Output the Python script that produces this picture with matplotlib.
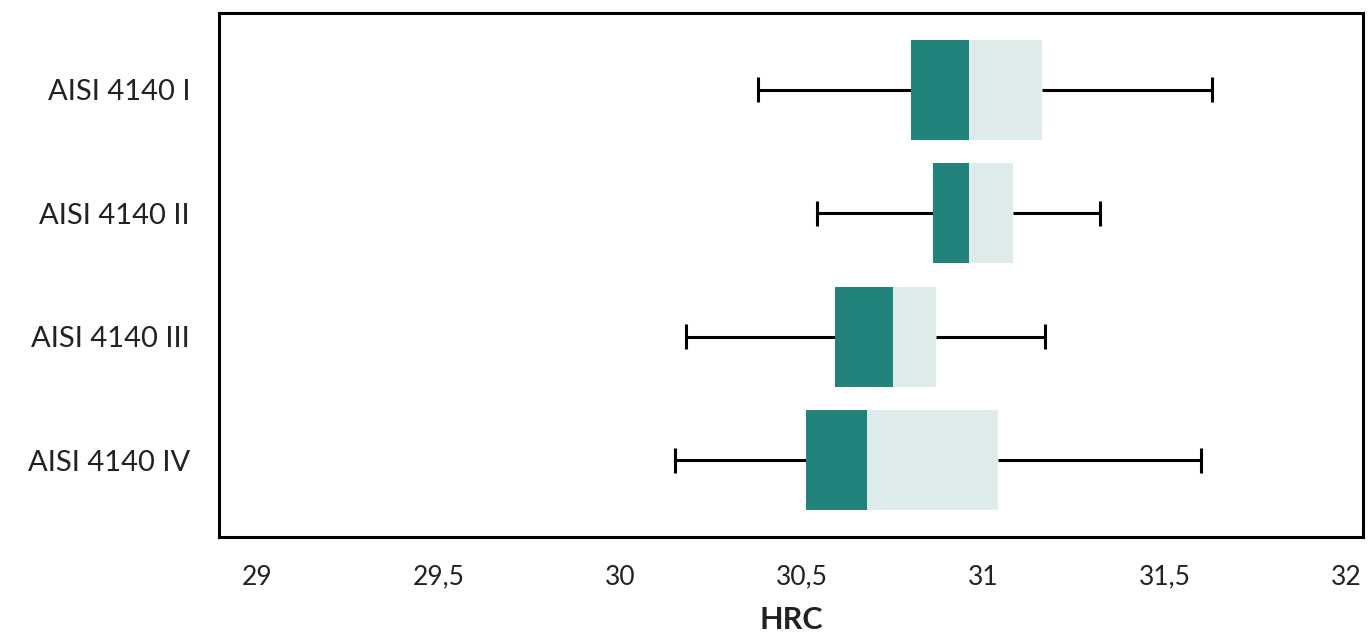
import matplotlib
matplotlib.use("Agg")
import matplotlib.pyplot as plt

# HRC hardness per steel batch
labels = ["AISI 4140 I", "AISI 4140 II", "AISI 4140 III", "AISI 4140 IV"]
mins = [30.38, 30.54, 30.18, 30.15]
q1 = [30.80, 30.86, 30.59, 30.51]
medians = [30.96, 30.96, 30.75, 30.68]
q3 = [31.16, 31.08, 30.87, 31.04]
maxs = [31.63, 31.32, 31.17, 31.60]
xticks = [29, 29.5, 30, 30.5, 31, 31.5, 32]
xticklabels = ["29", "29,5", "30", "30,5", "31", "31,5", "32"]

plt.rcParams['font.family'] = ['Lato', 'DejaVu Sans']

fig = plt.figure(figsize=(13.7, 6.35), dpi=100)
ax = fig.add_axes([0.16, 0.1543, 0.8349, 0.8252])

pos = list(range(len(labels)))
dark = "#22837A"
light = "#DDECEA"

# whiskers + caps
ax.hlines(pos, mins, q1, color="black", lw=2.2, zorder=1)
ax.hlines(pos, q3, maxs, color="black", lw=2.2, zorder=1)
ax.vlines(mins, [p - 0.1 for p in pos], [p + 0.1 for p in pos], color="black", lw=2.2)
ax.vlines(maxs, [p - 0.1 for p in pos], [p + 0.1 for p in pos], color="black", lw=2.2)

# boxes: q1->median dark, median->q3 light
ax.barh(pos, [m - a for m, a in zip(medians, q1)], left=q1, height=0.81,
        color=dark, zorder=2)
ax.barh(pos, [b - m for m, b in zip(medians, q3)], left=medians, height=0.81,
        color=light, zorder=2)

ax.set_xlim(28.895, 32.045)
ax.set_ylim(3.62, -0.62)
ax.set_yticks(pos)
ax.set_yticklabels(labels, fontsize=21, color="#222222")
ax.set_xticks(xticks)
ax.set_xticklabels(xticklabels, fontsize=19, color="#222222")
ax.tick_params(length=0)
ax.tick_params(axis="y", pad=21)
ax.tick_params(axis="x", pad=20)
ax.set_xlabel("HRC", fontsize=22, fontweight="bold", color="#222222", labelpad=12)

for s in ax.spines.values():
    s.set_linewidth(2.2)

plt.savefig("out.png", dpi=100)
